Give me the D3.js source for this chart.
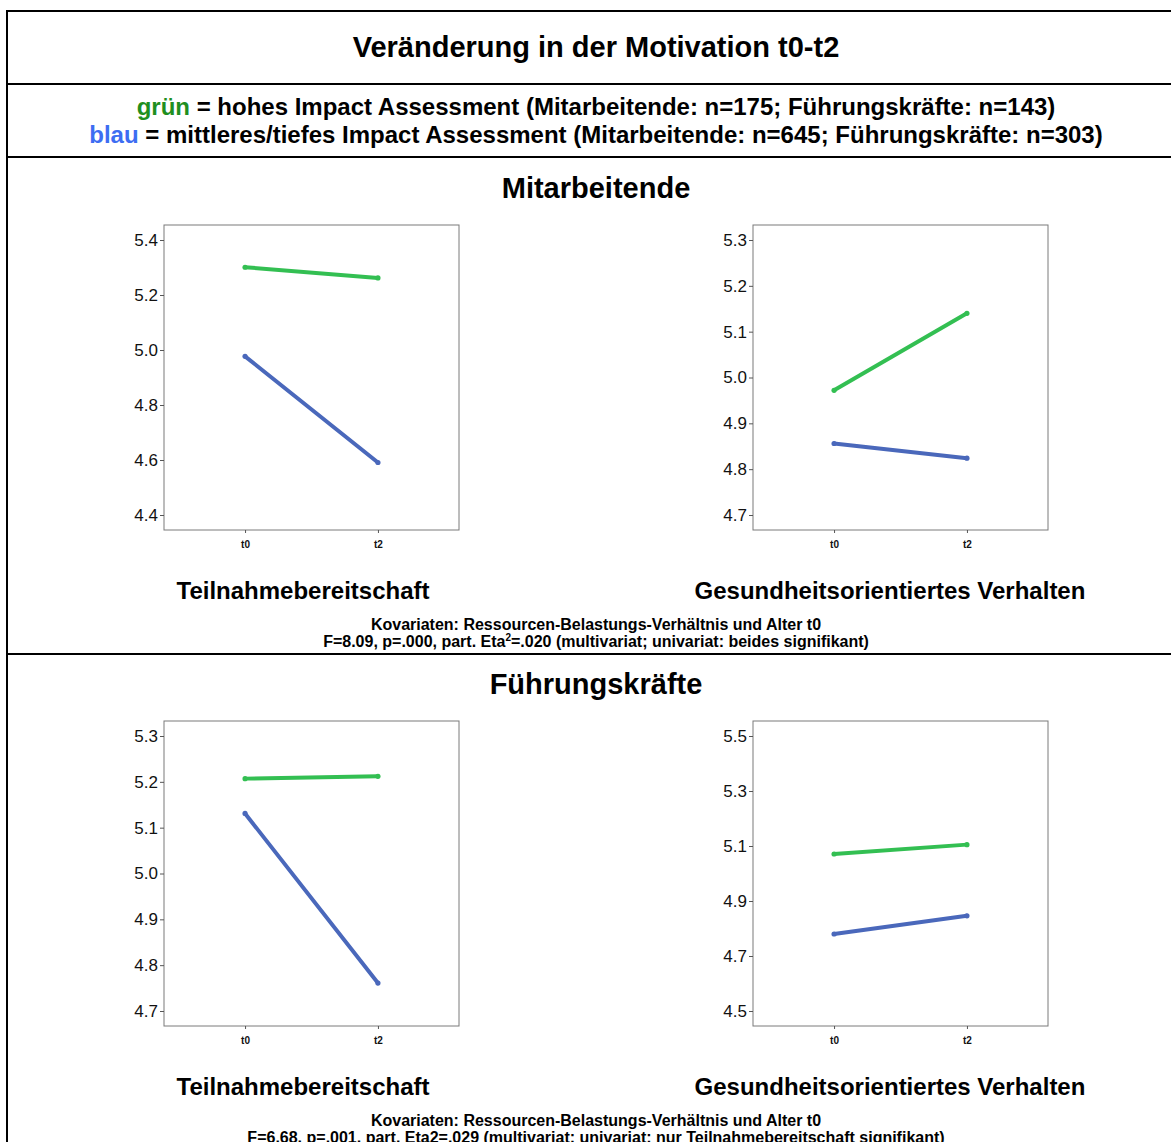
<!DOCTYPE html>
<html>
<head>
<meta charset="utf-8">
<script src="https://cdn.jsdelivr.net/npm/d3@7"></script>
<style>
  html, body { margin: 0; padding: 0; background: #fff; }
  svg { display: block; font-family: "Liberation Sans", Arial, Helvetica, sans-serif; }
</style>
</head>
<body>
<div id="chart"></div>
<script>
// Gruppen (Zeilen) und Skalen (Spalten)
const groups = ["Mitarbeitende", "Führungskräfte"];
const measures = ["Teilnahmebereitschaft", "Gesundheitsorientiertes Verhalten"];
const timepoints = ["t0", "t2"];

// Mittelwerte je Panel: [Mitarbeitende/Teilnahme, Mitarbeitende/Gesundheit, Führung/Teilnahme, Führung/Gesundheit]
const hochValues   = [[5.301, 5.262], [4.972, 5.140], [5.207, 5.212], [5.071, 5.105]];
const mittelValues = [[4.977, 4.591], [4.856, 4.824], [5.131, 4.761], [4.780, 4.846]];

// Achsenbeschriftungen je Panel
const yTicks = [
  [4.4, 4.6, 4.8, 5.0, 5.2, 5.4],
  [4.7, 4.8, 4.9, 5.0, 5.1, 5.2, 5.3],
  [4.7, 4.8, 4.9, 5.0, 5.1, 5.2, 5.3],
  [4.5, 4.7, 4.9, 5.1, 5.3, 5.5]
];

const covariateNote = "Kovariaten: Ressourcen-Belastungs-Verhältnis und Alter t0";
const statNotes = [
  ["F=8.09, p=.000, part. Eta", "2", "=.020 (multivariat; univariat: beides signifikant)"],
  ["F=6.68, p=.001, part. Eta2=.029 (multivariat; univariat: nur Teilnahmebereitschaft signifikant)", "", ""]
];

const W = 1171, H = 1142;
const GREEN = "#33bf52", BLUE = "#4a68bb";

const svg = d3.select("#chart").append("svg")
  .attr("width", W).attr("height", H);
svg.append("rect").attr("width", W).attr("height", H).attr("fill", "#fff");

// Rahmenlinien
const rule = (x1, y1, x2, y2) => svg.append("line")
  .attr("x1", x1).attr("y1", y1).attr("x2", x2).attr("y2", y2)
  .attr("stroke", "#000").attr("stroke-width", 2);
rule(7, 11, W, 11);
rule(7, 10, 7, H);
rule(7, 84, W, 84);
rule(7, 157, W, 157);
rule(7, 654, W, 654);

// Titel
svg.append("text").attr("x", 596).attr("y", 57)
  .attr("text-anchor", "middle").attr("font-weight", "bold").attr("font-size", 29)
  .text("Veränderung in der Motivation t0-t2");

// Legende
const legendLines = [
  { word: "grün", color: "#1f8f1f", rest: " = hohes Impact Assessment (Mitarbeitende: n=175; Führungskräfte: n=143)", y: 115 },
  { word: "blau", color: "#3d6df2", rest: " = mittleres/tiefes Impact Assessment (Mitarbeitende: n=645; Führungskräfte: n=303)", y: 143 }
];
legendLines.forEach(l => {
  const t = svg.append("text").attr("x", 596).attr("y", l.y)
    .attr("text-anchor", "middle").attr("font-weight", "bold").attr("font-size", 24);
  t.append("tspan").attr("fill", l.color).text(l.word);
  t.append("tspan").attr("fill", "#000").text(l.rest);
});

const sectionTop = [156, 652];
const frameX = [[164, 459], [753, 1048]];
const titleX = [303, 890];

groups.forEach((g, gi) => {
  const top = sectionTop[gi];
  svg.append("text").attr("x", 596).attr("y", top + 42)
    .attr("text-anchor", "middle").attr("font-weight", "bold").attr("font-size", 29)
    .text(g);

  measures.forEach((m, mi) => {
    const p = gi * 2 + mi;
    const [x0, x1] = frameX[mi];
    const y0 = top + 69, y1 = top + 374;
    const pad = 15;

    const x = d3.scalePoint().domain(timepoints).range([x0, x1]).padding(0.61);
    const ticks = yTicks[p];
    const y = d3.scaleLinear().domain(d3.extent(ticks)).range([y1 - pad, y0 + pad]);

    const panel = svg.append("g");
    panel.append("rect").attr("x", x0).attr("y", y0)
      .attr("width", x1 - x0).attr("height", y1 - y0)
      .attr("fill", "none").attr("stroke", "#7a7a7a").attr("stroke-width", 1);

    const yAxis = panel.append("g").attr("transform", `translate(${x0},0)`)
      .call(d3.axisLeft(y).tickValues(ticks).tickFormat(d3.format(".1f")).tickSize(4).tickPadding(2));
    yAxis.select(".domain").remove();
    yAxis.selectAll(".tick line").attr("stroke", "#555");
    yAxis.selectAll("text").attr("font-size", 17).attr("fill", "#111")
      .attr("font-family", "'Liberation Sans', Arial, sans-serif");

    const xAxis = panel.append("g").attr("transform", `translate(0,${y1})`)
      .call(d3.axisBottom(x).tickSize(3).tickPadding(8));
    xAxis.select(".domain").remove();
    xAxis.selectAll(".tick line").attr("stroke", "#555");
    xAxis.selectAll("text").attr("font-size", 10).attr("font-weight", "bold").attr("fill", "#111")
      .attr("font-family", "'Liberation Sans', Arial, sans-serif");

    const series = [
      { vals: mittelValues[p], color: BLUE },
      { vals: hochValues[p], color: GREEN }
    ];
    const line = d3.line().x(d => x(d.t)).y(d => y(d.v));
    series.forEach(s => {
      const pts = timepoints.map((t, i) => ({ t, v: s.vals[i] }));
      panel.append("path").datum(pts).attr("d", line)
        .attr("fill", "none").attr("stroke", s.color)
        .attr("stroke-width", 4).attr("stroke-linecap", "round");
      panel.selectAll(null).data(pts).enter().append("circle")
        .attr("cx", d => x(d.t)).attr("cy", d => y(d.v)).attr("r", 2.6)
        .attr("fill", s.color);
    });

    svg.append("text").attr("x", titleX[mi]).attr("y", top + 443)
      .attr("text-anchor", "middle").attr("font-weight", "bold").attr("font-size", 24)
      .text(m);
  });

  svg.append("text").attr("x", 596).attr("y", top + 474)
    .attr("text-anchor", "middle").attr("font-weight", "bold").attr("font-size", 16)
    .text(covariateNote);
  const st = svg.append("text").attr("x", 596).attr("y", top + 491)
    .attr("text-anchor", "middle").attr("font-weight", "bold").attr("font-size", 16);
  const [a, sup, b] = statNotes[gi];
  st.append("tspan").text(a);
  if (sup) {
    st.append("tspan").attr("font-size", 10).attr("dy", -6).text(sup);
    st.append("tspan").attr("dy", 6).text(b);
  }
});
</script>
</body>
</html>
